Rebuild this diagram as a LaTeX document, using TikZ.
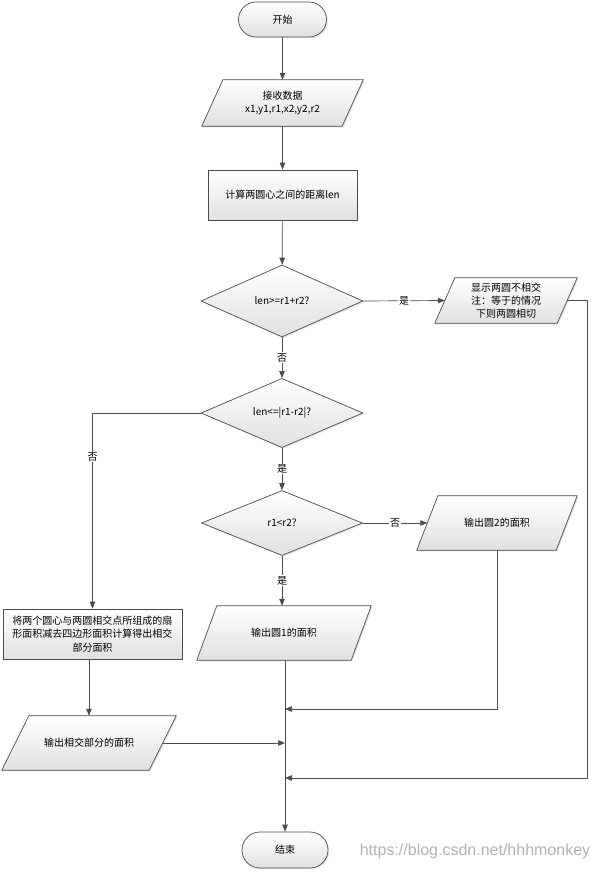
\documentclass[tikz,border=0pt]{standalone}
\usepackage{fontspec}
\setmainfont{Noto Sans CJK SC}
\newfontfamily\wmfont{Liberation Sans}
\usetikzlibrary{shapes.geometric,shapes.misc,arrows.meta,backgrounds,shadows}
\newcommand\drawpara[2]{%
  \begin{pgfonlayer}{background}
  \path[shapebox] ([xshift=#2*0.5pt]#1.north west) -- ([xshift=#2*0.5pt]#1.north east)
    -- ([xshift=-#2*0.5pt]#1.south east) -- ([xshift=-#2*0.5pt]#1.south west) -- cycle;
  \end{pgfonlayer}}
\begin{document}
\begin{tikzpicture}[x=1pt,y=-1pt,
  every node/.style={font=\fontsize{10}{13.3}\selectfont},
  shapebox/.style={draw=black!70, line width=0.7pt, top color=white, bottom color=black!12,
    align=center, inner sep=0pt,
    drop shadow={shadow xshift=1.2pt, shadow yshift=-1.2pt, opacity=0.22}},
  termbox/.style={shapebox, rounded rectangle},
  procbox/.style={shapebox, rectangle},
  decbox/.style={shapebox, diamond},
  parabox/.style={align=center, inner sep=0pt, rectangle},
  conn/.style={draw=black!70, line width=0.7pt, -{Triangle[length=7pt,width=5.5pt]}},
  lab/.style={fill=white, inner sep=1pt}
]
\useasboundingbox (0,0) rectangle (598,872);

\node[termbox, minimum width=88, minimum height=35] (start) at (282.5,19.5) {开始};
\node[parabox, minimum width=140, minimum height=46] (in1) at (282.5,103) {接收数据\\x1,y1,r1,x2,y2,r2};
\drawpara{in1}{21}
\node[procbox, minimum width=149, minimum height=50] (calc) at (282.5,195) {计算两圆心之间的距离len};
\node[decbox, minimum width=162, minimum height=72] (d1) at (282,301) {len>=r1+r2?};
\node[parabox, minimum width=122, minimum height=45] (show) at (506,300.5) {显示两圆不相交\\注：等于的情况\\下则两圆相切};
\drawpara{show}{20}
\node[decbox, minimum width=162, minimum height=64] (d2) at (282,413) {len<=|r1-r2|?};
\node[decbox, minimum width=161, minimum height=65] (d3) at (282,523) {r1<r2?};
\node[parabox, minimum width=139, minimum height=54] (out2) at (497,523) {输出圆2的面积};
\drawpara{out2}{21}
\node[parabox, minimum width=154, minimum height=54] (out1) at (284,633) {输出圆1的面积};
\drawpara{out1}{20}
\node[procbox, minimum width=179, minimum height=50] (rectL) at (92.5,634) {将两个圆心与两圆相交点所组成的扇\\形面积减去四边形面积计算得出相交\\部分面积};
\node[parabox, minimum width=147, minimum height=54] (outX) at (89,743) {输出相交部分的面积};
\drawpara{outX}{27}
\node[termbox, minimum width=86, minimum height=36] (end) at (285,850) {结束};
\node[font=\wmfont\fontsize{16}{16}\selectfont, text=black!30] (wm) at (475,851) {https://blog.csdn.net/hhhmonkey};

\coordinate (j1) at (285,709);
\coordinate (j2) at (285,743);
\coordinate (j3) at (285,778);
\coordinate (rc) at (587,778);

\draw[conn] (start) -- (in1);
\draw[conn] (in1) -- (calc);
\draw[conn] (calc) -- (d1);
\draw[conn] (d1.east) -- node[lab]{是} (show.west);
\draw[conn] (d1.south) -- node[lab]{否} (d2.north);
\draw[conn] (d2.west) -| node[lab, pos=0.612]{否} (rectL.north);
\draw[conn] (d2.south) -- node[lab]{是} (d3.north);
\draw[conn] (d3.east) -- node[lab]{否} (out2.west);
\draw[conn] (d3.south) -- node[lab]{是} (d3.south |- out1.north);
\draw[conn] (outX.north |- rectL.south) -- (outX.north);
\draw[conn] (end.north |- out1.south) -- (end.north);
\draw[conn] (out2.south) |- (j1);
\draw[conn] (outX.east) -- (j2);
\draw[conn] (show.east) -| (rc) -- (j3);
\end{tikzpicture}
\end{document}
